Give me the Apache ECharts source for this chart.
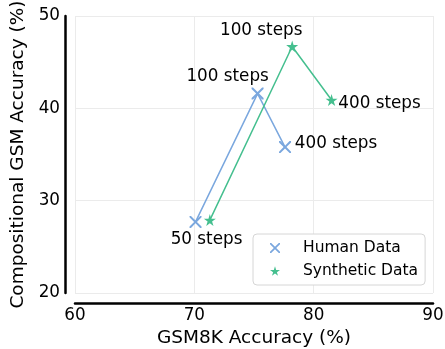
<!DOCTYPE html>
<html><head><meta charset="utf-8">
<script src="https://cdn.jsdelivr.net/npm/echarts@6/dist/echarts.min.js"></script>
<style>html,body{margin:0;padding:0;background:#fff}#c{width:445px;height:349px}</style>
</head><body><div id="c"></div>
<script>
const xTicks = [60, 70, 80, 90];
const yTicks = [20, 30, 40, 50];
const humanX = [70.1, 75.3, 77.6];
const humanY = [27.7, 41.6, 35.8];
const synthX = [71.3, 78.2, 81.5];
const synthY = [27.9, 46.7, 40.9];
const humanLabels = ['50 steps', '100 steps', '400 steps'];
const synthLabels = ['', '100 steps', '400 steps'];

const FONT = 'DejaVu Sans';
const XPATH = 'path://M0,0 L2.4,0 L10,7.6 L17.6,0 L20,0 L20,2.4 L12.4,10 L20,17.6 L20,20 L17.6,20 L10,12.4 L2.4,20 L0,20 L0,17.6 L7.6,10 L0,2.4 Z';
const STAR = 'path://M50,0 L61,35 L98,35 L68,57 L79,91 L50,70 L21,91 L32,57 L2,35 L39,35 Z';
const BLUE = '#7aa7de';
const GREEN = '#45bf8f';

const humanOffsets = [[11, 18], [-30, -17], [51, -3]];
const synthOffsets = [[0, 0], [-31, -16], [48, 4]];

function build(xs, ys, labels, offsets) {
  return xs.map((x, i) => ({
    value: [x, ys[i]],
    label: {
      show: labels[i] !== '',
      formatter: labels[i],
      position: 'inside',
      offset: offsets[i],
      color: '#000',
      fontFamily: FONT,
      fontSize: 16.8
    }
  }));
}

const chart = echarts.init(document.getElementById('c'), null, {renderer: 'canvas'});
chart.setOption({
  animation: false,
  backgroundColor: '#fff',
  grid: {left: 75, right: 12, top: 16, bottom: 56, containLabel: false, outerBoundsMode: 'none'},
  xAxis: {
    type: 'value', min: xTicks[0], max: xTicks[xTicks.length - 1], interval: 10,
    offset: 10,
    name: 'GSM8K Accuracy (%)', nameLocation: 'middle', nameGap: 25,
    nameTextStyle: {fontFamily: FONT, fontSize: 18.5, color: '#000'},
    axisLine: {show: true, lineStyle: {color: '#000', width: 2.5}},
    axisTick: {show: false},
    axisLabel: {fontFamily: FONT, fontSize: 16.8, color: '#000', margin: 4},
    splitLine: {show: true, lineStyle: {color: '#ebebeb', width: 1}}
  },
  yAxis: {
    type: 'value', min: yTicks[0], max: yTicks[yTicks.length - 1], interval: 10,
    offset: 10,
    name: 'Compositional GSM Accuracy (%)', nameLocation: 'middle', nameGap: 30,
    nameTextStyle: {fontFamily: FONT, fontSize: 18.5, color: '#000'},
    axisLine: {show: true, lineStyle: {color: '#000', width: 2.5}},
    axisTick: {show: false},
    axisLabel: {fontFamily: FONT, fontSize: 16.8, color: '#000', margin: 5},
    splitLine: {show: true, lineStyle: {color: '#ebebeb', width: 1}}
  },
  legend: {
    orient: 'vertical', left: 253, top: 234,
    padding: [5, 7, 5, 17],
    backgroundColor: '#fff',
    borderColor: '#d6d6d6', borderWidth: 1, borderRadius: 4,
    itemWidth: 10, itemHeight: 10, itemGap: 5,
    formatter: n => '{t|' + n + '}',
    textStyle: {
      fontFamily: FONT, fontSize: 15.5, color: '#000', lineHeight: 18,
      rich: {t: {fontFamily: FONT, fontSize: 15.5, color: '#000', lineHeight: 18, padding: [0, 0, 0, 18]}}
    },
    data: [
      {name: 'Human Data', icon: XPATH},
      {name: 'Synthetic Data', icon: STAR}
    ]
  },
  series: [
    {
      name: 'Human Data', type: 'line',
      data: build(humanX, humanY, humanLabels, humanOffsets),
      symbol: XPATH, symbolSize: 12,
      itemStyle: {color: BLUE},
      lineStyle: {color: BLUE, width: 1.5},
      z: 3
    },
    {
      name: 'Synthetic Data', type: 'line',
      data: build(synthX, synthY, synthLabels, synthOffsets),
      symbol: STAR, symbolSize: 12,
      itemStyle: {color: GREEN},
      lineStyle: {color: GREEN, width: 1.5},
      z: 4
    }
  ]
});
</script></body></html>
